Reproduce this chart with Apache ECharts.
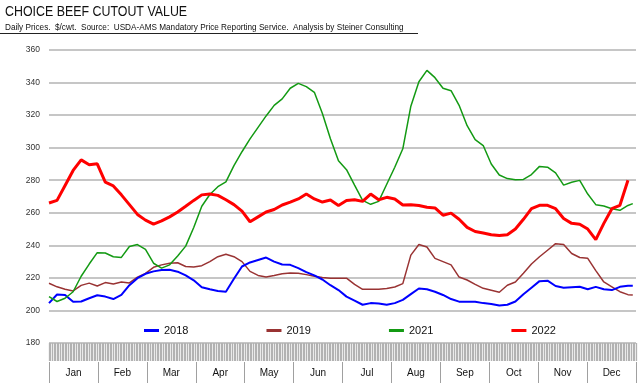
<!DOCTYPE html>
<html><head><meta charset="utf-8">
<script src="https://cdn.jsdelivr.net/npm/echarts@6/dist/echarts.min.js"></script>
<style>html,body{margin:0;padding:0;background:#fff}#c{width:642px;height:383px}</style>
</head><body><div id="c"></div>
<script>
// Day-of-year sampling positions
const days = [0,5,10,15,20,25,30,35,40,45,50,55,60,65,70,75,80,85,90,95,100,105,110,115,120,125,130,135,140,145,150,155,160,165,170,175,180,185,190,195,200,205,210,215,220,225,230,235,240,245,250,255,260,265,270,275,280,285,290,295,300,305,310,315,320,325,330,335,340,345,350,355,360,363];
const months = ['Jan','Feb','Mar','Apr','May','Jun','Jul','Aug','Sep','Oct','Nov','Dec'];
const seriesNames = ['2018','2019','2021','2022'];
const s2018 = [204.5,209.8,209.5,205.3,205.5,207.5,209.3,208.5,207,209.5,
  215.5,219.8,222.5,224,224.8,225,223.8,221.5,218.5,214.2,
  213,212,211.5,219.5,227,229.5,231,232.5,230,228.2,
  228,226,223.5,221.5,219,215.5,212.5,208.5,206,203.5,
  204.5,204.3,203.5,204.5,206.5,210,213.5,213,211.5,209.5,
  207,205.4,205.4,205.4,204.5,204,203,203.5,205.5,210,
  214,218,218.3,215,214,214.3,214.6,213,214.5,213,
  212.5,214.5,215.2,215.2];
const s2019 = [216.7,214.5,213,212,215.4,216.8,215,217.1,216.3,217.5,
  216.9,220.5,222.8,226.5,228,229,229.3,227,226.7,227.5,
  230,233,234.5,233,230,224,221.5,220.6,221.5,222.5,
  223,222.8,222,221,220.3,219.8,219.8,219.8,216,213,
  213,213,213.5,214.4,216.5,234,240.5,239,232,230,
  228,220.5,218.7,216,213.6,212.4,211.2,215.5,217.5,222.8,
  228.5,233,237,241,240.5,235,232.5,232,224.5,217.5,
  214.5,211.5,209.7,209.5];
const s2021 = [208.5,205.5,207.5,211.5,221,228.5,235.5,235.3,233,232.6,
  239.3,240.5,237.5,229,226,228,233.5,239.5,251,264,
  271.2,276,279,289,297.5,305.4,312.5,319.5,326,330,
  336.5,339.5,337.5,334,321,305.5,292,286.5,277,267.6,
  265.2,267,277.5,288,299.3,325.5,340.5,347.5,343,336.5,
  335,326,313.5,305,301.3,290,283.2,281,280.3,280.5,
  283.5,288.5,288,284.5,277,278.8,279.9,271.5,265,264.2,
  262.5,261.5,264.5,265.6];
const s2022 = [266,267.6,276.8,286,292.5,289.5,290.1,278.8,276.5,271,
  265,259,255.5,253,255,257.5,260.5,264,267.6,271,
  271.5,270.7,268,265,261,254.5,257.5,260.5,262,264.8,
  266.5,268.5,271.5,268.5,266.6,267.8,264.5,267.5,268,267,
  271.5,268,269.5,268.5,264.8,265,264.5,263.4,263,258.5,
  259.8,256,251,248.5,247.6,246.5,246,246.5,250,256,
  262.5,264.6,264.6,262.5,256.5,253.5,253,250,243.5,253.5,
  262.5,264.6,280,null];

const zip = v => days.map((d, i) => [d, v[i]]);
const chart = echarts.init(document.getElementById('c'), null, {renderer: 'canvas'});
const mk = (name, vals, color, width, z) => ({
  name, type: 'line', data: zip(vals), xAxisIndex: 0, symbol: 'none', smooth: false,
  lineStyle: {color, width}, itemStyle: {color}, z, connectNulls: false
});
chart.setOption({
  animation: false,
  graphic: [
    {type: 'text', x: 5, y: 4, scaleX: 0.8, style: {x: 0, y: 0, text: 'CHOICE BEEF CUTOUT VALUE', font: "15.5px 'Liberation Sans', sans-serif", fill: '#111', verticalAlign: 'top'}},
    {type: 'text', x: 5, y: 24, style: {x: 0, y: 0, text: 'Daily Prices.  $/cwt.  Source:  USDA-AMS Mandatory Price Reporting Service.  Analysis by Steiner Consulting', font: "8.2px 'Liberation Sans', sans-serif", fill: '#111', verticalAlign: 'top'}},
    {type: 'line', shape: {x1: 0, y1: 33.5, x2: 418, y2: 33.5}, style: {stroke: '#222', lineWidth: 1}}
  ],
  grid: {left: 49, right: 6, top: 50, bottom: 40},
  xAxis: [
    {type: 'value', min: 0, max: 365, show: false},
    {type: 'value', min: 0, max: 365, interval: 1, position: 'bottom',
      axisLine: {show: false}, axisLabel: {show: false}, splitLine: {show: false},
      axisTick: {show: true, length: 18, lineStyle: {color: '#b2b2b2', width: 1.3}}},
    {type: 'category', data: months, position: 'bottom', offset: 19, boundaryGap: true,
      axisLine: {show: false},
      axisTick: {show: true, interval: 0, length: 21, lineStyle: {color: '#a0a0a0'}},
      axisLabel: {interval: 0, margin: 6, fontSize: 10, color: '#111', fontFamily: 'Liberation Sans'}}
  ],
  yAxis: {type: 'value', min: 180, max: 360, interval: 20,
    axisLine: {show: false}, axisTick: {show: false},
    axisLabel: {fontSize: 8.5, color: '#333', margin: 9, fontFamily: 'Liberation Sans'},
    splitLine: {lineStyle: {color: '#b3b3b3', width: 1.5}}},
  legend: {data: seriesNames, left: 139, top: 320, itemWidth: 15, itemHeight: 3, itemGap: 78,
    icon: 'rect', textStyle: {fontSize: 11, color: '#111', fontFamily: 'Liberation Sans'}},
  series: [
    mk('2018', s2018, '#0000ff', 2, 3),
    mk('2019', s2019, '#993333', 1.5, 2),
    mk('2021', s2021, '#139a13', 1.5, 4),
    mk('2022', s2022, '#ff0000', 3, 5)
  ]
});
</script></body></html>
